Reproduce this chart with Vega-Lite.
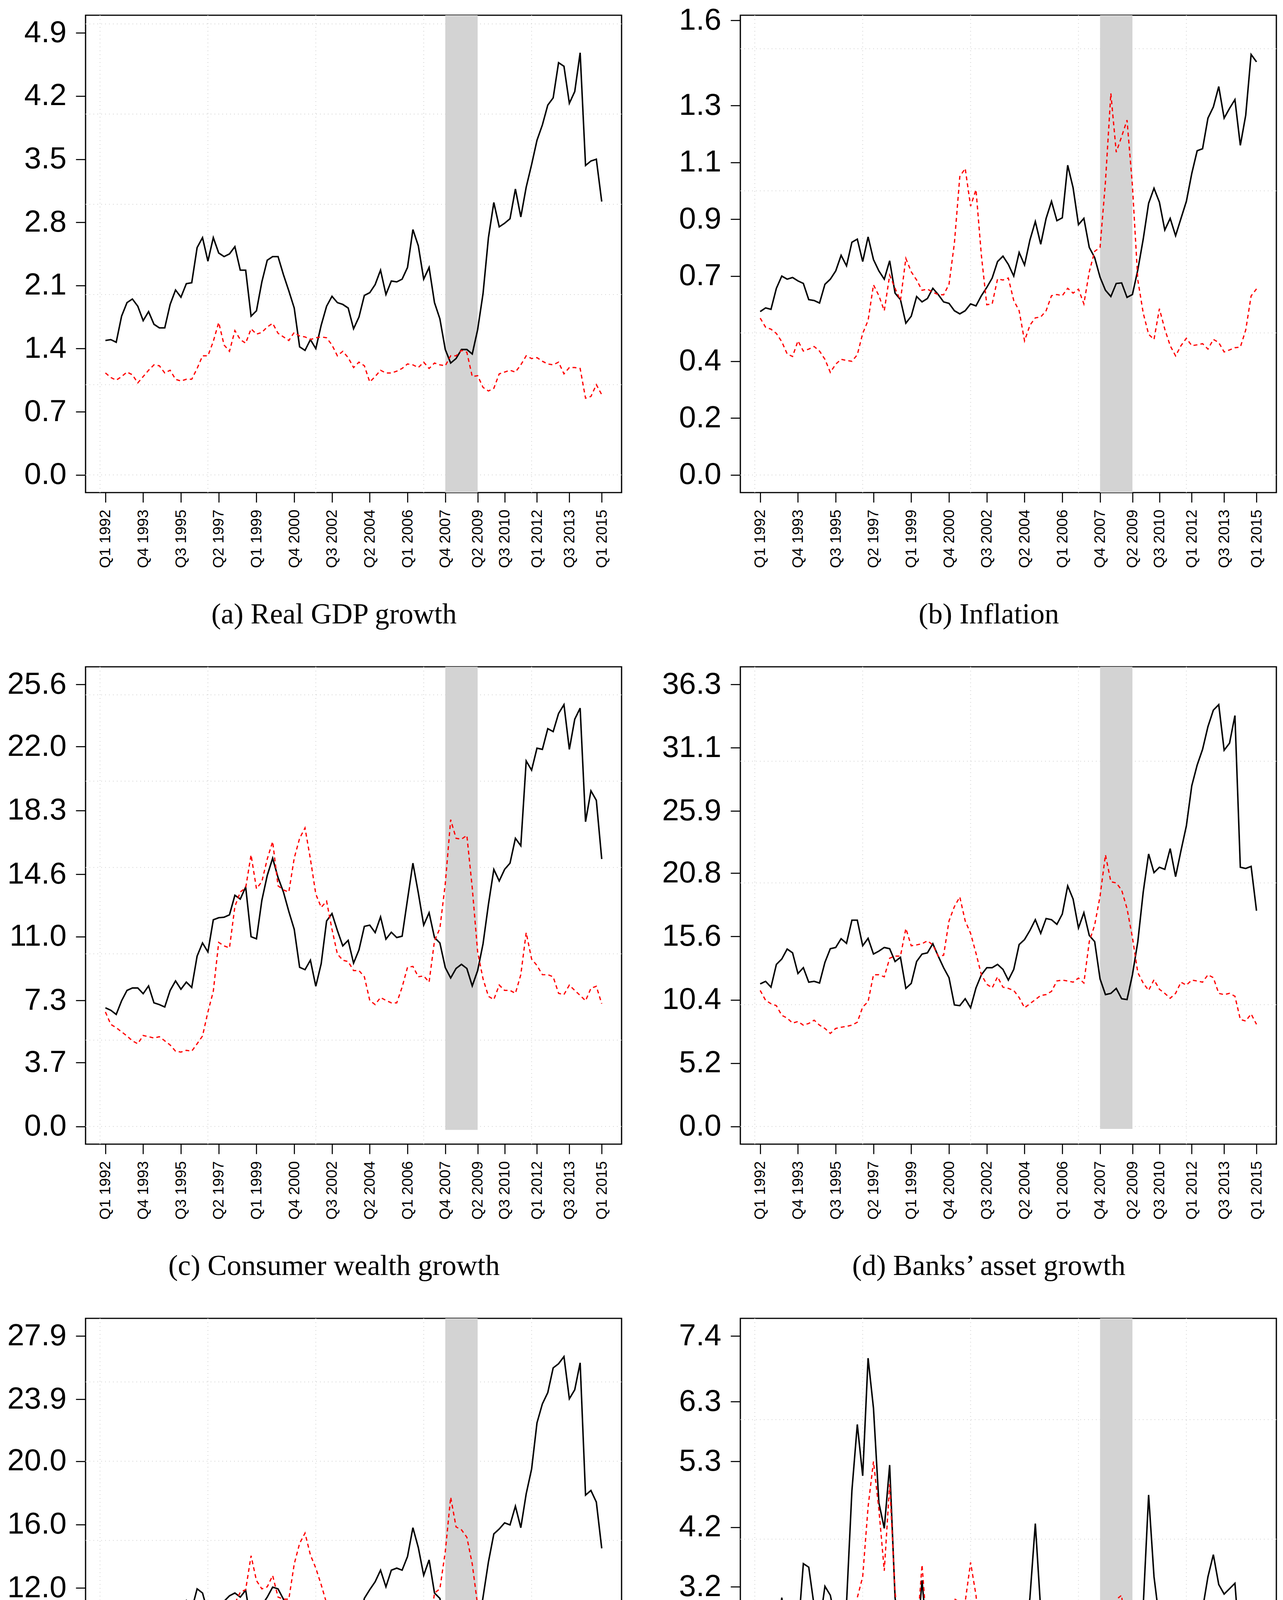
{
"$schema": "https://vega.github.io/schema/vega-lite/v6.json",
"background": "white",
"padding": {"left": 16, "top": 11, "right": 10, "bottom": 10},
"columns": 2,
"spacing": {"row": 446, "column": 304},
"bounds": "flush",
"config": {
  "font": "Liberation Sans",
  "view": {"stroke": "black", "strokeWidth": 3.2},
  "axis": {"domain": false, "grid": false, "tickColor": "black", "tickWidth": 2.7, "tickSize": 25, "labelColor": "black", "labelFont": "Liberation Sans", "labelOverlap": false, "labelBound": false, "labelFlush": false},
  "axisX": {"labelFontSize": 39, "labelAngle": -90, "labelAlign": "right", "labelBaseline": "middle", "labelPadding": 18},
  "axisY": {"labelFontSize": 78, "labelPadding": 24},
  "title": {"font": "Liberation Serif", "fontSize": 74, "fontWeight": "normal", "color": "black", "orient": "bottom", "anchor": "middle", "frame": "group", "offset": 84, "dx": -50}
},
"datasets": {
  "band": [{"s": 63, "e": 69, "lo": -0.2, "hi": 1000}],
  "vgrid": [{"g": -1}, {"g": 19}, {"g": 39}, {"g": 59}, {"g": 79}],
  "ha": [{"g": 0}, {"g": 1}, {"g": 2}, {"g": 3}, {"g": 4}, {"g": 5}],
  "hb": [{"g": 0}, {"g": 0.5}, {"g": 1}, {"g": 1.5}],
  "hc": [{"g": 0}, {"g": 5}, {"g": 10}, {"g": 15}, {"g": 20}, {"g": 25}],
  "hd": [{"g": 0}, {"g": 10}, {"g": 20}, {"g": 30}],
  "he": [{"g": 0}, {"g": 5}, {"g": 10}, {"g": 15}, {"g": 20}, {"g": 25}],
  "hf": [{"g": 0}, {"g": 2}, {"g": 4}, {"g": 6}],
  "a": [
{"q":0,"solid":1.49,"dashed":1.13},{"q":1,"solid":1.50,"dashed":1.08},{"q":2,"solid":1.47,"dashed":1.05},{"q":3,"solid":1.76,"dashed":1.09},{"q":4,"solid":1.91,"dashed":1.14},{"q":5,"solid":1.95,"dashed":1.11},{"q":6,"solid":1.87,"dashed":1.02},{"q":7,"solid":1.71,"dashed":1.09},{"q":8,"solid":1.81,"dashed":1.16},{"q":9,"solid":1.67,"dashed":1.22},
{"q":10,"solid":1.63,"dashed":1.21},{"q":11,"solid":1.63,"dashed":1.13},{"q":12,"solid":1.89,"dashed":1.16},{"q":13,"solid":2.05,"dashed":1.06},{"q":14,"solid":1.97,"dashed":1.04},{"q":15,"solid":2.12,"dashed":1.06},{"q":16,"solid":2.13,"dashed":1.06},{"q":17,"solid":2.52,"dashed":1.18},{"q":18,"solid":2.63,"dashed":1.32},{"q":19,"solid":2.37,"dashed":1.32},
{"q":20,"solid":2.63,"dashed":1.48},{"q":21,"solid":2.46,"dashed":1.69},{"q":22,"solid":2.42,"dashed":1.44},{"q":23,"solid":2.45,"dashed":1.37},{"q":24,"solid":2.53,"dashed":1.60},{"q":25,"solid":2.27,"dashed":1.50},{"q":26,"solid":2.27,"dashed":1.46},{"q":27,"solid":1.76,"dashed":1.62},{"q":28,"solid":1.82,"dashed":1.56},{"q":29,"solid":2.14,"dashed":1.58},
{"q":30,"solid":2.38,"dashed":1.64},{"q":31,"solid":2.42,"dashed":1.68},{"q":32,"solid":2.42,"dashed":1.57},{"q":33,"solid":2.22,"dashed":1.53},{"q":34,"solid":2.04,"dashed":1.49},{"q":35,"solid":1.85,"dashed":1.58},{"q":36,"solid":1.42,"dashed":1.54},{"q":37,"solid":1.38,"dashed":1.53},{"q":38,"solid":1.50,"dashed":1.50},{"q":39,"solid":1.40,"dashed":1.52},
{"q":40,"solid":1.66,"dashed":1.53},{"q":41,"solid":1.87,"dashed":1.52},{"q":42,"solid":1.98,"dashed":1.44},{"q":43,"solid":1.91,"dashed":1.32},{"q":44,"solid":1.89,"dashed":1.37},{"q":45,"solid":1.85,"dashed":1.30},{"q":46,"solid":1.62,"dashed":1.19},{"q":47,"solid":1.75,"dashed":1.25},{"q":48,"solid":1.99,"dashed":1.21},{"q":49,"solid":2.02,"dashed":1.03},
{"q":50,"solid":2.11,"dashed":1.09},{"q":51,"solid":2.27,"dashed":1.16},{"q":52,"solid":2.00,"dashed":1.13},{"q":53,"solid":2.15,"dashed":1.13},{"q":54,"solid":2.14,"dashed":1.15},{"q":55,"solid":2.17,"dashed":1.18},{"q":56,"solid":2.30,"dashed":1.23},{"q":57,"solid":2.72,"dashed":1.22},{"q":58,"solid":2.54,"dashed":1.19},{"q":59,"solid":2.17,"dashed":1.25},
{"q":60,"solid":2.30,"dashed":1.18},{"q":61,"solid":1.91,"dashed":1.24},{"q":62,"solid":1.73,"dashed":1.22},{"q":63,"solid":1.39,"dashed":1.21},{"q":64,"solid":1.24,"dashed":1.32},{"q":65,"solid":1.29,"dashed":1.32},{"q":66,"solid":1.39,"dashed":1.38},{"q":67,"solid":1.39,"dashed":1.36},{"q":68,"solid":1.34,"dashed":1.09},{"q":69,"solid":1.61,"dashed":1.10},
{"q":70,"solid":2.01,"dashed":0.97},{"q":71,"solid":2.63,"dashed":0.93},{"q":72,"solid":3.02,"dashed":0.96},{"q":73,"solid":2.75,"dashed":1.12},{"q":74,"solid":2.79,"dashed":1.14},{"q":75,"solid":2.84,"dashed":1.16},{"q":76,"solid":3.17,"dashed":1.14},{"q":77,"solid":2.86,"dashed":1.22},{"q":78,"solid":3.19,"dashed":1.32},{"q":79,"solid":3.44,"dashed":1.29},
{"q":80,"solid":3.71,"dashed":1.30},{"q":81,"solid":3.88,"dashed":1.26},{"q":82,"solid":4.10,"dashed":1.23},{"q":83,"solid":4.18,"dashed":1.22},{"q":84,"solid":4.57,"dashed":1.25},{"q":85,"solid":4.53,"dashed":1.12},{"q":86,"solid":4.12,"dashed":1.19},{"q":87,"solid":4.25,"dashed":1.19},{"q":88,"solid":4.68,"dashed":1.18},{"q":89,"solid":3.43,"dashed":0.85},
{"q":90,"solid":3.48,"dashed":0.87},{"q":91,"solid":3.50,"dashed":1.00},{"q":92,"solid":3.03,"dashed":0.89}
  ],
  "b": [
{"q":0,"solid":0.575,"dashed":0.552},{"q":1,"solid":0.588,"dashed":0.52},{"q":2,"solid":0.583,"dashed":0.513},{"q":3,"solid":0.657,"dashed":0.498},{"q":4,"solid":0.70,"dashed":0.469},{"q":5,"solid":0.689,"dashed":0.426},{"q":6,"solid":0.695,"dashed":0.417},{"q":7,"solid":0.683,"dashed":0.472},{"q":8,"solid":0.674,"dashed":0.436},{"q":9,"solid":0.617,"dashed":0.443},
{"q":10,"solid":0.614,"dashed":0.452},{"q":11,"solid":0.605,"dashed":0.436},{"q":12,"solid":0.671,"dashed":0.407},{"q":13,"solid":0.689,"dashed":0.361},{"q":14,"solid":0.718,"dashed":0.39},{"q":15,"solid":0.773,"dashed":0.407},{"q":16,"solid":0.736,"dashed":0.403},{"q":17,"solid":0.819,"dashed":0.40},{"q":18,"solid":0.83,"dashed":0.423},{"q":19,"solid":0.751,"dashed":0.498},
{"q":20,"solid":0.838,"dashed":0.544},{"q":21,"solid":0.758,"dashed":0.669},{"q":22,"solid":0.718,"dashed":0.631},{"q":23,"solid":0.689,"dashed":0.578},{"q":24,"solid":0.754,"dashed":0.703},{"q":25,"solid":0.64,"dashed":0.657},{"q":26,"solid":0.617,"dashed":0.614},{"q":27,"solid":0.534,"dashed":0.762},{"q":28,"solid":0.559,"dashed":0.715},{"q":29,"solid":0.628,"dashed":0.686},
{"q":30,"solid":0.609,"dashed":0.65},{"q":31,"solid":0.621,"dashed":0.654},{"q":32,"solid":0.657,"dashed":0.643},{"q":33,"solid":0.635,"dashed":0.635},{"q":34,"solid":0.609,"dashed":0.634},{"q":35,"solid":0.604,"dashed":0.671},{"q":36,"solid":0.578,"dashed":0.816},{"q":37,"solid":0.567,"dashed":1.05},{"q":38,"solid":0.578,"dashed":1.079},{"q":39,"solid":0.602,"dashed":0.946},
{"q":40,"solid":0.595,"dashed":1.004},{"q":41,"solid":0.631,"dashed":0.773},{"q":42,"solid":0.66,"dashed":0.599},{"q":43,"solid":0.693,"dashed":0.602},{"q":44,"solid":0.751,"dashed":0.69},{"q":45,"solid":0.77,"dashed":0.686},{"q":46,"solid":0.741,"dashed":0.693},{"q":47,"solid":0.70,"dashed":0.614},{"q":48,"solid":0.783,"dashed":0.578},{"q":49,"solid":0.739,"dashed":0.472},
{"q":50,"solid":0.827,"dashed":0.527},{"q":51,"solid":0.892,"dashed":0.553},{"q":52,"solid":0.812,"dashed":0.556},{"q":53,"solid":0.903,"dashed":0.578},{"q":54,"solid":0.963,"dashed":0.631},{"q":55,"solid":0.895,"dashed":0.635},{"q":56,"solid":0.905,"dashed":0.631},{"q":57,"solid":1.09,"dashed":0.657},{"q":58,"solid":1.011,"dashed":0.64},{"q":59,"solid":0.881,"dashed":0.654},
{"q":60,"solid":0.903,"dashed":0.602},{"q":61,"solid":0.801,"dashed":0.715},{"q":62,"solid":0.765,"dashed":0.787},{"q":63,"solid":0.696,"dashed":0.801},{"q":64,"solid":0.65,"dashed":1.032},{"q":65,"solid":0.628,"dashed":1.343},{"q":66,"solid":0.674,"dashed":1.136},{"q":67,"solid":0.676,"dashed":1.191},{"q":68,"solid":0.625,"dashed":1.249},{"q":69,"solid":0.635,"dashed":1.018},
{"q":70,"solid":0.722,"dashed":0.686},{"q":71,"solid":0.83,"dashed":0.57},{"q":72,"solid":0.956,"dashed":0.495},{"q":73,"solid":1.009,"dashed":0.477},{"q":74,"solid":0.96,"dashed":0.585},{"q":75,"solid":0.862,"dashed":0.513},{"q":76,"solid":0.903,"dashed":0.455},{"q":77,"solid":0.842,"dashed":0.419},{"q":78,"solid":0.903,"dashed":0.455},{"q":79,"solid":0.963,"dashed":0.481},
{"q":80,"solid":1.061,"dashed":0.455},{"q":81,"solid":1.141,"dashed":0.458},{"q":82,"solid":1.148,"dashed":0.462},{"q":83,"solid":1.256,"dashed":0.443},{"q":84,"solid":1.295,"dashed":0.477},{"q":85,"solid":1.367,"dashed":0.466},{"q":86,"solid":1.256,"dashed":0.433},{"q":87,"solid":1.29,"dashed":0.44},{"q":88,"solid":1.321,"dashed":0.448},{"q":89,"solid":1.16,"dashed":0.45},
{"q":90,"solid":1.266,"dashed":0.51},{"q":91,"solid":1.48,"dashed":0.63},{"q":92,"solid":1.454,"dashed":0.655}
  ],
  "c": [
{"q":0,"solid":6.87,"dashed":6.63},{"q":1,"solid":6.73,"dashed":5.91},{"q":2,"solid":6.49,"dashed":5.72},{"q":3,"solid":7.28,"dashed":5.48},{"q":4,"solid":7.88,"dashed":5.24},{"q":5,"solid":8.02,"dashed":4.96},{"q":6,"solid":8.02,"dashed":4.79},{"q":7,"solid":7.69,"dashed":5.27},{"q":8,"solid":8.14,"dashed":5.20},{"q":9,"solid":7.16,"dashed":5.12},
{"q":10,"solid":7.06,"dashed":5.20},{"q":11,"solid":6.92,"dashed":4.96},{"q":12,"solid":7.88,"dashed":4.72},{"q":13,"solid":8.43,"dashed":4.36},{"q":14,"solid":7.95,"dashed":4.31},{"q":15,"solid":8.36,"dashed":4.41},{"q":16,"solid":8.05,"dashed":4.36},{"q":17,"solid":9.87,"dashed":4.79},{"q":18,"solid":10.63,"dashed":5.24},{"q":19,"solid":10.11,"dashed":6.63},
{"q":20,"solid":11.97,"dashed":7.83},{"q":21,"solid":12.09,"dashed":10.66},{"q":22,"solid":12.12,"dashed":10.46},{"q":23,"solid":12.26,"dashed":10.34},{"q":24,"solid":13.39,"dashed":12.74},{"q":25,"solid":13.17,"dashed":13.58},{"q":26,"solid":13.87,"dashed":13.82},{"q":27,"solid":10.99,"dashed":15.73},{"q":28,"solid":10.87,"dashed":13.77},{"q":29,"solid":13.10,"dashed":14.18},
{"q":30,"solid":14.54,"dashed":15.49},{"q":31,"solid":15.54,"dashed":16.50},{"q":32,"solid":14.42,"dashed":13.94},{"q":33,"solid":13.58,"dashed":13.70},{"q":34,"solid":12.45,"dashed":13.58},{"q":35,"solid":11.42,"dashed":15.54},{"q":36,"solid":9.22,"dashed":16.69},{"q":37,"solid":9.08,"dashed":17.29},{"q":38,"solid":9.63,"dashed":15.49},{"q":39,"solid":8.12,"dashed":13.46},
{"q":40,"solid":9.43,"dashed":12.69},{"q":41,"solid":11.90,"dashed":13.05},{"q":42,"solid":12.33,"dashed":11.42},{"q":43,"solid":11.35,"dashed":9.99},{"q":44,"solid":10.46,"dashed":9.63},{"q":45,"solid":10.78,"dashed":9.55},{"q":46,"solid":9.46,"dashed":9.03},{"q":47,"solid":10.23,"dashed":9.03},{"q":48,"solid":11.59,"dashed":8.67},{"q":49,"solid":11.66,"dashed":7.30},
{"q":50,"solid":11.23,"dashed":7.06},{"q":51,"solid":12.14,"dashed":7.47},{"q":52,"solid":10.85,"dashed":7.30},{"q":53,"solid":11.25,"dashed":7.16},{"q":54,"solid":10.94,"dashed":7.16},{"q":55,"solid":11.02,"dashed":8.07},{"q":56,"solid":13.15,"dashed":9.22},{"q":57,"solid":15.25,"dashed":9.27},{"q":58,"solid":13.53,"dashed":8.67},{"q":59,"solid":11.66,"dashed":8.72},
{"q":60,"solid":12.38,"dashed":8.36},{"q":61,"solid":10.94,"dashed":10.75},{"q":62,"solid":10.63,"dashed":11.47},{"q":63,"solid":9.20,"dashed":14.06},{"q":64,"solid":8.60,"dashed":17.77},{"q":65,"solid":9.15,"dashed":16.69},{"q":66,"solid":9.39,"dashed":16.64},{"q":67,"solid":9.15,"dashed":16.86},{"q":68,"solid":8.14,"dashed":13.82},{"q":69,"solid":9.03,"dashed":10.11},
{"q":70,"solid":10.58,"dashed":8.55},{"q":71,"solid":12.86,"dashed":7.54},{"q":72,"solid":14.89,"dashed":7.35},{"q":73,"solid":14.22,"dashed":8.19},{"q":74,"solid":14.89,"dashed":7.88},{"q":75,"solid":15.25,"dashed":7.88},{"q":76,"solid":16.69,"dashed":7.71},{"q":77,"solid":16.26,"dashed":8.79},{"q":78,"solid":21.17,"dashed":11.23},{"q":79,"solid":20.64,"dashed":9.70},
{"q":80,"solid":21.91,"dashed":9.32},{"q":81,"solid":21.84,"dashed":8.79},{"q":82,"solid":23.04,"dashed":8.79},{"q":83,"solid":22.87,"dashed":8.67},{"q":84,"solid":23.92,"dashed":7.71},{"q":85,"solid":24.43,"dashed":7.64},{"q":86,"solid":21.84,"dashed":8.19},{"q":87,"solid":23.59,"dashed":7.88},{"q":88,"solid":24.23,"dashed":7.59},{"q":89,"solid":17.65,"dashed":7.28},
{"q":90,"solid":19.44,"dashed":8.0},{"q":91,"solid":18.89,"dashed":8.12},{"q":92,"solid":15.49,"dashed":7.11}
  ],
  "d": [
{"q":0,"solid":11.71,"dashed":11.17},{"q":1,"solid":11.92,"dashed":10.36},{"q":2,"solid":11.44,"dashed":10.08},{"q":3,"solid":13.31,"dashed":9.92},{"q":4,"solid":13.75,"dashed":9.13},{"q":5,"solid":14.57,"dashed":8.90},{"q":6,"solid":14.26,"dashed":8.49},{"q":7,"solid":12.56,"dashed":8.62},{"q":8,"solid":13.04,"dashed":8.32},{"q":9,"solid":11.85,"dashed":8.46},
{"q":10,"solid":11.92,"dashed":8.73},{"q":11,"solid":11.78,"dashed":8.32},{"q":12,"solid":13.48,"dashed":8.05},{"q":13,"solid":14.60,"dashed":7.64},{"q":14,"solid":14.70,"dashed":8.05},{"q":15,"solid":15.42,"dashed":8.15},{"q":16,"solid":15.04,"dashed":8.22},{"q":17,"solid":16.94,"dashed":8.32},{"q":18,"solid":16.94,"dashed":8.56},{"q":19,"solid":14.84,"dashed":9.81},
{"q":20,"solid":15.45,"dashed":10.25},{"q":21,"solid":14.16,"dashed":12.46},{"q":22,"solid":14.40,"dashed":12.46},{"q":23,"solid":14.70,"dashed":12.29},{"q":24,"solid":14.60,"dashed":13.82},{"q":25,"solid":13.55,"dashed":13.99},{"q":26,"solid":13.89,"dashed":13.99},{"q":27,"solid":11.34,"dashed":16.26},{"q":28,"solid":11.75,"dashed":14.84},{"q":29,"solid":13.55,"dashed":14.91},
{"q":30,"solid":14.16,"dashed":15.01},{"q":31,"solid":14.26,"dashed":15.25},{"q":32,"solid":15.01,"dashed":14.91},{"q":33,"solid":13.99,"dashed":13.99},{"q":34,"solid":13.04,"dashed":14.06},{"q":35,"solid":12.22,"dashed":16.88},{"q":36,"solid":9.98,"dashed":18.06},{"q":37,"solid":9.92,"dashed":18.85},{"q":38,"solid":10.49,"dashed":16.88},{"q":39,"solid":9.75,"dashed":15.86},
{"q":40,"solid":11.38,"dashed":14.23},{"q":41,"solid":12.46,"dashed":12.46},{"q":42,"solid":13.04,"dashed":11.68},{"q":43,"solid":13.04,"dashed":11.38},{"q":44,"solid":13.31,"dashed":12.29},{"q":45,"solid":12.90,"dashed":11.44},{"q":46,"solid":12.02,"dashed":11.34},{"q":47,"solid":12.90,"dashed":11.17},{"q":48,"solid":14.94,"dashed":10.59},{"q":49,"solid":15.35,"dashed":9.75},
{"q":50,"solid":16.10,"dashed":10.08},{"q":51,"solid":16.98,"dashed":10.42},{"q":52,"solid":15.86,"dashed":10.76},{"q":53,"solid":17.08,"dashed":10.83},{"q":54,"solid":16.98,"dashed":11.10},{"q":55,"solid":16.60,"dashed":11.95},{"q":56,"solid":17.45,"dashed":12.02},{"q":57,"solid":19.76,"dashed":11.95},{"q":58,"solid":18.68,"dashed":11.85},{"q":59,"solid":16.30,"dashed":12.19},
{"q":60,"solid":17.56,"dashed":11.78},{"q":61,"solid":15.69,"dashed":15.18},{"q":62,"solid":15.18,"dashed":16.54},{"q":63,"solid":12.12,"dashed":18.91},{"q":64,"solid":10.83,"dashed":22.31},{"q":65,"solid":10.93,"dashed":20.10},{"q":66,"solid":11.34,"dashed":20.00},{"q":67,"solid":10.49,"dashed":19.42},{"q":68,"solid":10.42,"dashed":17.89},{"q":69,"solid":12.46,"dashed":15.52},
{"q":70,"solid":15.18,"dashed":12.63},{"q":71,"solid":19.25,"dashed":11.78},{"q":72,"solid":22.38,"dashed":11.17},{"q":73,"solid":20.85,"dashed":12.05},{"q":74,"solid":21.29,"dashed":11.27},{"q":75,"solid":21.12,"dashed":10.93},{"q":76,"solid":22.82,"dashed":10.53},{"q":77,"solid":20.51,"dashed":10.93},{"q":78,"solid":22.65,"dashed":11.85},{"q":79,"solid":24.69,"dashed":11.61},
{"q":80,"solid":27.98,"dashed":12.02},{"q":81,"solid":29.68,"dashed":11.95},{"q":82,"solid":30.97,"dashed":11.85},{"q":83,"solid":32.84,"dashed":12.46},{"q":84,"solid":34.19,"dashed":12.22},{"q":85,"solid":34.64,"dashed":10.93},{"q":86,"solid":30.90,"dashed":10.83},{"q":87,"solid":31.48,"dashed":10.93},{"q":88,"solid":33.75,"dashed":10.70},{"q":89,"solid":21.29,"dashed":8.79},
{"q":90,"solid":21.19,"dashed":8.66},{"q":91,"solid":21.36,"dashed":9.24},{"q":92,"solid":17.72,"dashed":8.39}
  ],
  "e": [
{"q":0,"solid":8.55,"dashed":8.16},{"q":1,"solid":8.94,"dashed":7.82},{"q":2,"solid":8.42,"dashed":7.38},{"q":3,"solid":9.52,"dashed":7.12},{"q":4,"solid":10.04,"dashed":6.73},{"q":5,"solid":10.77,"dashed":6.65},{"q":6,"solid":10.38,"dashed":6.34},{"q":7,"solid":9.07,"dashed":6.21},{"q":8,"solid":9.07,"dashed":5.95},{"q":9,"solid":7.77,"dashed":5.68},
{"q":10,"solid":8.34,"dashed":6.15},{"q":11,"solid":8.42,"dashed":5.95},{"q":12,"solid":9.47,"dashed":5.74},{"q":13,"solid":10.51,"dashed":5.55},{"q":14,"solid":10.95,"dashed":5.95},{"q":15,"solid":11.21,"dashed":5.89},{"q":16,"solid":10.64,"dashed":5.81},{"q":17,"solid":11.94,"dashed":5.95},{"q":18,"solid":11.68,"dashed":6.52},{"q":19,"solid":10.43,"dashed":7.12},
{"q":20,"solid":11.03,"dashed":7.51},{"q":21,"solid":10.43,"dashed":9.20},{"q":22,"solid":11.16,"dashed":9.60},{"q":23,"solid":11.50,"dashed":9.67},{"q":24,"solid":11.68,"dashed":11.03},{"q":25,"solid":11.42,"dashed":11.73},{"q":26,"solid":11.86,"dashed":11.89},{"q":27,"solid":9.73,"dashed":14.03},{"q":28,"solid":9.99,"dashed":12.46},{"q":29,"solid":10.90,"dashed":11.94},
{"q":30,"solid":11.42,"dashed":12.07},{"q":31,"solid":12.05,"dashed":12.78},{"q":32,"solid":11.94,"dashed":11.42},{"q":33,"solid":11.29,"dashed":11.29},{"q":34,"solid":10.51,"dashed":11.29},{"q":35,"solid":9.80,"dashed":13.51},{"q":36,"solid":8.08,"dashed":14.81},{"q":37,"solid":8.08,"dashed":15.46},{"q":38,"solid":8.55,"dashed":14.08},{"q":39,"solid":7.82,"dashed":13.25},
{"q":40,"solid":8.81,"dashed":12.20},{"q":41,"solid":9.86,"dashed":11.03},{"q":42,"solid":10.43,"dashed":9.47},{"q":43,"solid":10.33,"dashed":8.94},{"q":44,"solid":10.17,"dashed":9.33},{"q":45,"solid":9.73,"dashed":8.68},{"q":46,"solid":9.20,"dashed":8.68},{"q":47,"solid":9.86,"dashed":8.55},{"q":48,"solid":11.34,"dashed":8.03},{"q":49,"solid":11.89,"dashed":7.56},
{"q":50,"solid":12.39,"dashed":7.72},{"q":51,"solid":13.12,"dashed":8.08},{"q":52,"solid":12.07,"dashed":8.16},{"q":53,"solid":13.12,"dashed":8.42},{"q":54,"solid":13.25,"dashed":8.74},{"q":55,"solid":13.12,"dashed":9.47},{"q":56,"solid":13.98,"dashed":9.60},{"q":57,"solid":15.80,"dashed":9.52},{"q":58,"solid":14.55,"dashed":9.20},{"q":59,"solid":12.80,"dashed":9.60},
{"q":60,"solid":13.77,"dashed":9.07},{"q":61,"solid":11.68,"dashed":11.68},{"q":62,"solid":11.34,"dashed":11.94},{"q":63,"solid":9.73,"dashed":14.29},{"q":64,"solid":8.50,"dashed":17.73},{"q":65,"solid":8.68,"dashed":15.85},{"q":66,"solid":8.87,"dashed":15.67},{"q":67,"solid":8.21,"dashed":15.20},{"q":68,"solid":7.90,"dashed":13.51},{"q":69,"solid":9.20,"dashed":10.90},
{"q":70,"solid":11.42,"dashed":8.94},{"q":71,"solid":13.64,"dashed":7.98},{"q":72,"solid":15.41,"dashed":7.56},{"q":73,"solid":15.72,"dashed":9.02},{"q":74,"solid":16.11,"dashed":8.42},{"q":75,"solid":15.98,"dashed":8.24},{"q":76,"solid":17.16,"dashed":8.03},{"q":77,"solid":15.80,"dashed":8.68},{"q":78,"solid":17.94,"dashed":9.60},{"q":79,"solid":19.50,"dashed":9.20},
{"q":80,"solid":22.42,"dashed":9.60},{"q":81,"solid":23.62,"dashed":9.52},{"q":82,"solid":24.33,"dashed":9.33},{"q":83,"solid":25.89,"dashed":9.86},{"q":84,"solid":26.15,"dashed":9.39},{"q":85,"solid":26.60,"dashed":8.29},{"q":86,"solid":23.94,"dashed":8.37},{"q":87,"solid":24.51,"dashed":8.42},{"q":88,"solid":26.21,"dashed":8.21},{"q":89,"solid":17.86,"dashed":7.38},
{"q":90,"solid":18.15,"dashed":7.43},{"q":91,"solid":17.42,"dashed":7.51},{"q":92,"solid":14.50,"dashed":6.81}
  ],
  "f": [
{"q":0,"solid":1.79,"dashed":1.71},{"q":1,"solid":1.85,"dashed":1.61},{"q":2,"solid":1.84,"dashed":1.61},{"q":3,"solid":2.23,"dashed":1.66},{"q":4,"solid":3.02,"dashed":2.02},{"q":5,"solid":2.41,"dashed":1.54},{"q":6,"solid":2.29,"dashed":1.38},{"q":7,"solid":2.43,"dashed":1.71},{"q":8,"solid":3.59,"dashed":2.30},{"q":9,"solid":3.53,"dashed":2.54},
{"q":10,"solid":2.88,"dashed":2.06},{"q":11,"solid":2.56,"dashed":1.85},{"q":12,"solid":3.21,"dashed":1.92},{"q":13,"solid":3.06,"dashed":1.61},{"q":14,"solid":2.61,"dashed":1.42},{"q":15,"solid":2.74,"dashed":1.43},{"q":16,"solid":2.92,"dashed":1.61},{"q":17,"solid":4.81,"dashed":2.41},{"q":18,"solid":5.92,"dashed":3.02},{"q":19,"solid":5.06,"dashed":3.37},
{"q":20,"solid":7.03,"dashed":4.54},{"q":21,"solid":6.19,"dashed":5.30},{"q":22,"solid":4.61,"dashed":4.50},{"q":23,"solid":4.18,"dashed":3.47},{"q":24,"solid":5.24,"dashed":4.92},{"q":25,"solid":3.02,"dashed":3.12},{"q":26,"solid":2.26,"dashed":2.30},{"q":27,"solid":1.71,"dashed":2.45},{"q":28,"solid":1.81,"dashed":2.31},{"q":29,"solid":2.19,"dashed":2.37},
{"q":30,"solid":3.31,"dashed":3.57},{"q":31,"solid":2.24,"dashed":2.37},{"q":32,"solid":2.48,"dashed":2.40},{"q":33,"solid":2.12,"dashed":2.12},{"q":34,"solid":1.83,"dashed":2.02},{"q":35,"solid":1.72,"dashed":2.40},{"q":36,"solid":1.64,"dashed":3.00},{"q":37,"solid":1.54,"dashed":2.94},{"q":38,"solid":1.79,"dashed":2.95},{"q":39,"solid":2.14,"dashed":3.61},
{"q":40,"solid":2.26,"dashed":3.06},{"q":41,"solid":1.97,"dashed":2.16},{"q":42,"solid":1.86,"dashed":1.68},{"q":43,"solid":1.95,"dashed":1.74},{"q":44,"solid":2.21,"dashed":2.02},{"q":45,"solid":1.92,"dashed":1.72},{"q":46,"solid":1.79,"dashed":1.66},{"q":47,"solid":1.80,"dashed":1.43},{"q":48,"solid":1.90,"dashed":1.37},{"q":49,"solid":2.14,"dashed":1.99},
{"q":50,"solid":3.02,"dashed":2.62},{"q":51,"solid":4.26,"dashed":1.92},{"q":52,"solid":2.81,"dashed":1.61},{"q":53,"solid":2.69,"dashed":1.41},{"q":54,"solid":2.19,"dashed":1.56},{"q":55,"solid":2.18,"dashed":1.52},{"q":56,"solid":2.19,"dashed":1.47},{"q":57,"solid":2.43,"dashed":1.38},{"q":58,"solid":2.16,"dashed":1.45},{"q":59,"solid":1.95,"dashed":1.30},
{"q":60,"solid":1.92,"dashed":1.61},{"q":61,"solid":1.66,"dashed":1.74},{"q":62,"solid":1.57,"dashed":2.26},{"q":63,"solid":1.46,"dashed":2.97},{"q":64,"solid":1.43,"dashed":2.64},{"q":65,"solid":1.40,"dashed":2.61},{"q":66,"solid":1.49,"dashed":2.99},{"q":67,"solid":1.61,"dashed":3.06},{"q":68,"solid":1.83,"dashed":2.12},{"q":69,"solid":1.79,"dashed":1.57},
{"q":70,"solid":1.93,"dashed":1.71},{"q":71,"solid":2.88,"dashed":2.33},{"q":72,"solid":4.74,"dashed":1.78},{"q":73,"solid":3.37,"dashed":1.43},{"q":74,"solid":2.64,"dashed":1.23},{"q":75,"solid":2.33,"dashed":1.14},{"q":76,"solid":2.43,"dashed":1.14},{"q":77,"solid":2.11,"dashed":1.08},{"q":78,"solid":2.03,"dashed":1.02},{"q":79,"solid":2.18,"dashed":1.00},
{"q":80,"solid":2.33,"dashed":1.02},{"q":81,"solid":2.47,"dashed":1.12},{"q":82,"solid":2.83,"dashed":1.19},{"q":83,"solid":3.37,"dashed":1.30},{"q":84,"solid":3.74,"dashed":1.33},{"q":85,"solid":3.24,"dashed":1.02},{"q":86,"solid":3.08,"dashed":1.06},{"q":87,"solid":3.17,"dashed":1.09},{"q":88,"solid":3.26,"dashed":1.03},{"q":89,"solid":2.11,"dashed":0.88},
{"q":90,"solid":2.28,"dashed":0.95},{"q":91,"solid":2.48,"dashed":1.09},{"q":92,"solid":2.59,"dashed":1.19}
  ]
},
"concat": [
 {"width": 1372, "height": 1222, "title": {"text": "(a) Real GDP growth"},
  "layer": [
   {"data": {"name": "vgrid"}, "mark": {"type": "rule", "color": "#D3D3D3", "strokeWidth": 2, "strokeDash": [2, 8]},
    "encoding": {"x": {"field": "g", "type": "quantitative", "title": null, "scale": {"domain": [-3.68, 95.68], "nice": false, "zero": false}, "axis": {"values": [0, 7, 14, 21, 28, 35, 42, 49, 56, 63, 69, 74, 80, 86, 92], "labelExpr": "'Q' + (datum.value % 4 + 1) + ' ' + (1992 + floor(datum.value / 4))"}}}},
   {"data": {"name": "ha"}, "mark": {"type": "rule", "color": "#D3D3D3", "strokeWidth": 2, "strokeDash": [2, 8]},
    "encoding": {"y": {"field": "g", "type": "quantitative", "title": null, "scale": {"domain": [-0.196, 5.096], "nice": false, "zero": false}, "axis": {"values": [0, 0.7, 1.4, 2.1, 2.8, 3.5, 4.2, 4.9], "format": ".1f"}}}},
   {"data": {"name": "band"}, "mark": {"type": "rect", "color": "#D3D3D3", "clip": true},
    "encoding": {"x": {"field": "s", "type": "quantitative", "title": null}, "x2": {"field": "e"}, "y": {"field": "lo", "type": "quantitative", "title": null}, "y2": {"field": "hi"}}},
   {"data": {"name": "a"}, "mark": {"type": "line", "color": "black", "strokeWidth": 3.8},
    "encoding": {"x": {"field": "q", "type": "quantitative", "title": null}, "y": {"field": "solid", "type": "quantitative", "title": null}}},
   {"data": {"name": "a"}, "mark": {"type": "line", "color": "#FF0000", "strokeWidth": 3.2, "strokeDash": [10, 8]},
    "encoding": {"x": {"field": "q", "type": "quantitative", "title": null}, "y": {"field": "dashed", "type": "quantitative", "title": null}}}
  ]},
 {"width": 1372, "height": 1222, "title": {"text": "(b) Inflation"},
  "layer": [
   {"data": {"name": "vgrid"}, "mark": {"type": "rule", "color": "#D3D3D3", "strokeWidth": 2, "strokeDash": [2, 8]},
    "encoding": {"x": {"field": "g", "type": "quantitative", "title": null, "scale": {"domain": [-3.68, 95.68], "nice": false, "zero": false}, "axis": {"values": [0, 7, 14, 21, 28, 35, 42, 49, 56, 63, 69, 74, 80, 86, 92], "labelExpr": "'Q' + (datum.value % 4 + 1) + ' ' + (1992 + floor(datum.value / 4))"}}}},
   {"data": {"name": "hb"}, "mark": {"type": "rule", "color": "#D3D3D3", "strokeWidth": 2, "strokeDash": [2, 8]},
    "encoding": {"y": {"field": "g", "type": "quantitative", "title": null, "scale": {"domain": [-0.062, 1.618], "nice": false, "zero": false}, "axis": {"values": [0, 0.2, 0.4, 0.7, 0.9, 1.1, 1.3, 1.6], "format": ".1f"}}}},
   {"data": {"name": "band"}, "mark": {"type": "rect", "color": "#D3D3D3", "clip": true},
    "encoding": {"x": {"field": "s", "type": "quantitative", "title": null}, "x2": {"field": "e"}, "y": {"field": "lo", "type": "quantitative", "title": null}, "y2": {"field": "hi"}}},
   {"data": {"name": "b"}, "mark": {"type": "line", "color": "black", "strokeWidth": 3.8},
    "encoding": {"x": {"field": "q", "type": "quantitative", "title": null}, "y": {"field": "solid", "type": "quantitative", "title": null}}},
   {"data": {"name": "b"}, "mark": {"type": "line", "color": "#FF0000", "strokeWidth": 3.2, "strokeDash": [10, 8]},
    "encoding": {"x": {"field": "q", "type": "quantitative", "title": null}, "y": {"field": "dashed", "type": "quantitative", "title": null}}}
  ]},
 {"width": 1372, "height": 1222, "title": {"text": "(c) Consumer wealth growth"},
  "layer": [
   {"data": {"name": "vgrid"}, "mark": {"type": "rule", "color": "#D3D3D3", "strokeWidth": 2, "strokeDash": [2, 8]},
    "encoding": {"x": {"field": "g", "type": "quantitative", "title": null, "scale": {"domain": [-3.68, 95.68], "nice": false, "zero": false}, "axis": {"values": [0, 7, 14, 21, 28, 35, 42, 49, 56, 63, 69, 74, 80, 86, 92], "labelExpr": "'Q' + (datum.value % 4 + 1) + ' ' + (1992 + floor(datum.value / 4))"}}}},
   {"data": {"name": "hc"}, "mark": {"type": "rule", "color": "#D3D3D3", "strokeWidth": 2, "strokeDash": [2, 8]},
    "encoding": {"y": {"field": "g", "type": "quantitative", "title": null, "scale": {"domain": [-1.024, 26.624], "nice": false, "zero": false}, "axis": {"values": [0, 3.7, 7.3, 11, 14.6, 18.3, 22, 25.6], "format": ".1f"}}}},
   {"data": {"name": "band"}, "mark": {"type": "rect", "color": "#D3D3D3", "clip": true},
    "encoding": {"x": {"field": "s", "type": "quantitative", "title": null}, "x2": {"field": "e"}, "y": {"field": "lo", "type": "quantitative", "title": null}, "y2": {"field": "hi"}}},
   {"data": {"name": "c"}, "mark": {"type": "line", "color": "black", "strokeWidth": 3.8},
    "encoding": {"x": {"field": "q", "type": "quantitative", "title": null}, "y": {"field": "solid", "type": "quantitative", "title": null}}},
   {"data": {"name": "c"}, "mark": {"type": "line", "color": "#FF0000", "strokeWidth": 3.2, "strokeDash": [10, 8]},
    "encoding": {"x": {"field": "q", "type": "quantitative", "title": null}, "y": {"field": "dashed", "type": "quantitative", "title": null}}}
  ]},
 {"width": 1372, "height": 1222, "title": {"text": "(d) Banks’ asset growth"},
  "layer": [
   {"data": {"name": "vgrid"}, "mark": {"type": "rule", "color": "#D3D3D3", "strokeWidth": 2, "strokeDash": [2, 8]},
    "encoding": {"x": {"field": "g", "type": "quantitative", "title": null, "scale": {"domain": [-3.68, 95.68], "nice": false, "zero": false}, "axis": {"values": [0, 7, 14, 21, 28, 35, 42, 49, 56, 63, 69, 74, 80, 86, 92], "labelExpr": "'Q' + (datum.value % 4 + 1) + ' ' + (1992 + floor(datum.value / 4))"}}}},
   {"data": {"name": "hd"}, "mark": {"type": "rule", "color": "#D3D3D3", "strokeWidth": 2, "strokeDash": [2, 8]},
    "encoding": {"y": {"field": "g", "type": "quantitative", "title": null, "scale": {"domain": [-1.452, 37.752], "nice": false, "zero": false}, "axis": {"values": [0, 5.2, 10.4, 15.6, 20.8, 25.9, 31.1, 36.3], "format": ".1f"}}}},
   {"data": {"name": "band"}, "mark": {"type": "rect", "color": "#D3D3D3", "clip": true},
    "encoding": {"x": {"field": "s", "type": "quantitative", "title": null}, "x2": {"field": "e"}, "y": {"field": "lo", "type": "quantitative", "title": null}, "y2": {"field": "hi"}}},
   {"data": {"name": "d"}, "mark": {"type": "line", "color": "black", "strokeWidth": 3.8},
    "encoding": {"x": {"field": "q", "type": "quantitative", "title": null}, "y": {"field": "solid", "type": "quantitative", "title": null}}},
   {"data": {"name": "d"}, "mark": {"type": "line", "color": "#FF0000", "strokeWidth": 3.2, "strokeDash": [10, 8]},
    "encoding": {"x": {"field": "q", "type": "quantitative", "title": null}, "y": {"field": "dashed", "type": "quantitative", "title": null}}}
  ]},
 {"width": 1372, "height": 1222, "title": {"text": "(e) Banks’ deposit growth"},
  "layer": [
   {"data": {"name": "vgrid"}, "mark": {"type": "rule", "color": "#D3D3D3", "strokeWidth": 2, "strokeDash": [2, 8]},
    "encoding": {"x": {"field": "g", "type": "quantitative", "title": null, "scale": {"domain": [-3.68, 95.68], "nice": false, "zero": false}, "axis": {"values": [0, 7, 14, 21, 28, 35, 42, 49, 56, 63, 69, 74, 80, 86, 92], "labelExpr": "'Q' + (datum.value % 4 + 1) + ' ' + (1992 + floor(datum.value / 4))"}}}},
   {"data": {"name": "he"}, "mark": {"type": "rule", "color": "#D3D3D3", "strokeWidth": 2, "strokeDash": [2, 8]},
    "encoding": {"y": {"field": "g", "type": "quantitative", "title": null, "scale": {"domain": [-1.116, 29.016], "nice": false, "zero": false}, "axis": {"values": [0, 4, 8, 12, 16, 20, 23.9, 27.9], "format": ".1f"}}}},
   {"data": {"name": "band"}, "mark": {"type": "rect", "color": "#D3D3D3", "clip": true},
    "encoding": {"x": {"field": "s", "type": "quantitative", "title": null}, "x2": {"field": "e"}, "y": {"field": "lo", "type": "quantitative", "title": null}, "y2": {"field": "hi"}}},
   {"data": {"name": "e"}, "mark": {"type": "line", "color": "black", "strokeWidth": 3.8},
    "encoding": {"x": {"field": "q", "type": "quantitative", "title": null}, "y": {"field": "solid", "type": "quantitative", "title": null}}},
   {"data": {"name": "e"}, "mark": {"type": "line", "color": "#FF0000", "strokeWidth": 3.2, "strokeDash": [10, 8]},
    "encoding": {"x": {"field": "q", "type": "quantitative", "title": null}, "y": {"field": "dashed", "type": "quantitative", "title": null}}}
  ]},
 {"width": 1372, "height": 1222, "title": {"text": "(f) Net interest rate margin"},
  "layer": [
   {"data": {"name": "vgrid"}, "mark": {"type": "rule", "color": "#D3D3D3", "strokeWidth": 2, "strokeDash": [2, 8]},
    "encoding": {"x": {"field": "g", "type": "quantitative", "title": null, "scale": {"domain": [-3.68, 95.68], "nice": false, "zero": false}, "axis": {"values": [0, 7, 14, 21, 28, 35, 42, 49, 56, 63, 69, 74, 80, 86, 92], "labelExpr": "'Q' + (datum.value % 4 + 1) + ' ' + (1992 + floor(datum.value / 4))"}}}},
   {"data": {"name": "hf"}, "mark": {"type": "rule", "color": "#D3D3D3", "strokeWidth": 2, "strokeDash": [2, 8]},
    "encoding": {"y": {"field": "g", "type": "quantitative", "title": null, "scale": {"domain": [-0.296, 7.696], "nice": false, "zero": false}, "axis": {"values": [0, 1.1, 2.1, 3.2, 4.2, 5.3, 6.3, 7.4], "format": ".1f"}}}},
   {"data": {"name": "band"}, "mark": {"type": "rect", "color": "#D3D3D3", "clip": true},
    "encoding": {"x": {"field": "s", "type": "quantitative", "title": null}, "x2": {"field": "e"}, "y": {"field": "lo", "type": "quantitative", "title": null}, "y2": {"field": "hi"}}},
   {"data": {"name": "f"}, "mark": {"type": "line", "color": "black", "strokeWidth": 3.8},
    "encoding": {"x": {"field": "q", "type": "quantitative", "title": null}, "y": {"field": "solid", "type": "quantitative", "title": null}}},
   {"data": {"name": "f"}, "mark": {"type": "line", "color": "#FF0000", "strokeWidth": 3.2, "strokeDash": [10, 8]},
    "encoding": {"x": {"field": "q", "type": "quantitative", "title": null}, "y": {"field": "dashed", "type": "quantitative", "title": null}}}
  ]}
]
}
